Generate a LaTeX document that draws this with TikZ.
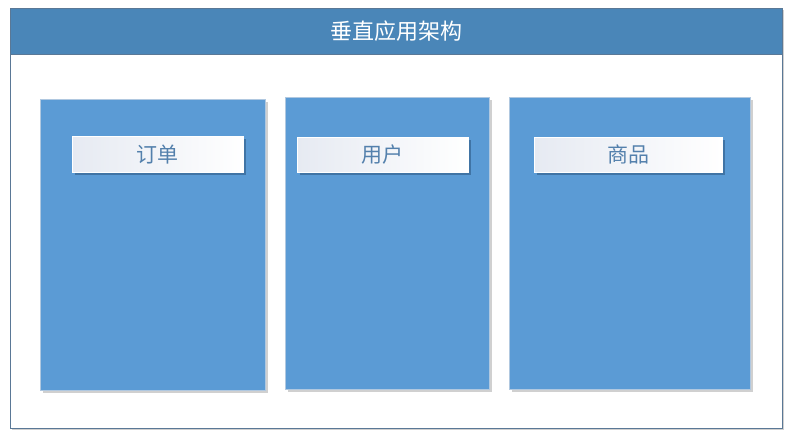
\documentclass[tikz,border=0pt]{standalone}
\usepackage{fontspec}
\newfontfamily\cjk{Noto Sans CJK SC}
\usetikzlibrary{shadows}
\definecolor{hdr}{HTML}{4A86B8}
\definecolor{frameline}{HTML}{5A7896}
\definecolor{colfill}{HTML}{5B9BD5}
\definecolor{colline}{HTML}{B0C8E0}
\definecolor{lbltext}{HTML}{5380AC}
\definecolor{lblleft}{HTML}{E6EAF2}
\definecolor{lblshadow}{HTML}{2E5A86}
\begin{document}
\begin{tikzpicture}[x=1pt,y=-1pt,
  colbox/.style={draw=colline,line width=0.6pt,fill=colfill,
    drop shadow={shadow xshift=3pt,shadow yshift=-3pt,opacity=0.3,fill=black!60}},
  lblbox/.style={draw=white,line width=0.5pt,left color=lblleft,right color=white,
    drop shadow={shadow xshift=2.5pt,shadow yshift=-2.5pt,opacity=0.6,fill=lblshadow}},
  lbltxt/.style={text=lbltext,font=\cjk\fontsize{21}{24}\selectfont,inner sep=0pt},
  framebox/.style={draw=frameline,line width=0.8pt,fill=white,
    drop shadow={shadow xshift=2pt,shadow yshift=-2pt,opacity=0.3,fill=black!60}}]
\useasboundingbox (0,0) rectangle (792,438);
\fill[white] (0,0) rectangle (792,438);
% outer frame
\node[framebox,anchor=north west,minimum width=772pt,minimum height=420pt,inner sep=0pt] (frame) at (10,8) {};
\fill[hdr] (10,8) rectangle (782,54);
\draw[frameline,line width=0.8pt] (10,54) -- (782,54);
\draw[frameline,line width=0.8pt] (10,8) rectangle (782,428);
\node[text=white,font=\cjk\fontsize{22}{26}\selectfont,inner sep=0pt] (title) at (396,31) {垂直应用架构};
% columns
\node[colbox,anchor=north west,minimum width=225pt,minimum height=291pt,inner sep=0pt] (c1) at (40,99) {};
\node[colbox,anchor=north west,minimum width=204pt,minimum height=292pt,inner sep=0pt] (c2) at (285,97) {};
\node[colbox,anchor=north west,minimum width=241pt,minimum height=292pt,inner sep=0pt] (c3) at (509,97) {};
% labels
\node[lblbox,anchor=north west,minimum width=171pt,minimum height=36pt,inner sep=0pt] (l1) at (72,136) {};
\node[lbltxt] (t1) at (l1.center) {订单};
\node[lblbox,anchor=north west,minimum width=171pt,minimum height=35pt,inner sep=0pt] (l2) at (297,137) {};
\node[lbltxt] (t2) at (l2.center) {用户};
\node[lblbox,anchor=north west,minimum width=188pt,minimum height=35pt,inner sep=0pt] (l3) at (534,137) {};
\node[lbltxt] (t3) at (l3.center) {商品};
\end{tikzpicture}
\end{document}
